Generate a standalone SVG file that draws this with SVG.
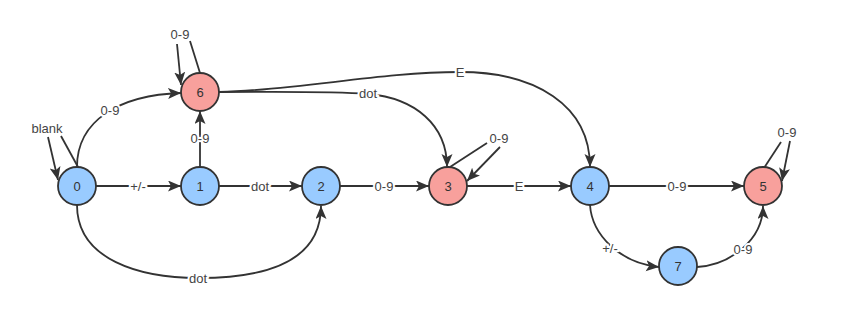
<svg xmlns="http://www.w3.org/2000/svg" width="860" height="310" viewBox="0 0 860 310">
<style>
.n circle{stroke:#333;stroke-width:1.8}
.b circle{fill:#99cbff}
.r circle{fill:#f8a09c}
text{font-family:"Liberation Sans",Arial,sans-serif;font-size:13px;fill:#333;text-anchor:middle;dominant-baseline:central}
#edges path{fill:none;stroke:#333;stroke-width:1.8}
.lbl{stroke:#fff;stroke-width:4;paint-order:stroke;fill:#444}
.a{marker-end:url(#arr)}
</style>
<defs>
<marker id="arr" markerUnits="userSpaceOnUse" markerWidth="14" markerHeight="12" refX="13" refY="5.5" orient="auto">
<path d="M0,0 L13,5.5 L0,11 L3,5.5 z" fill="#333"/>
</marker>
</defs>
<rect width="860" height="310" fill="#fff"/>
<g id="edges">
<path class="a" d="M96,186 L181,186"/>
<path class="a" d="M219,186 L302,186"/>
<path class="a" d="M340,186 L429,186"/>
<path class="a" d="M467,186 L571,186"/>
<path class="a" d="M609,186 L744,186"/>
<path class="a" d="M200,167 L200,111"/>
<path class="a" d="M77,167 C77,120 120,95 181,93"/>
<path d="M78,167 L61,136"/>
<path class="a" d="M48,137 L58,180"/>
<path d="M200,73 L190,41"/>
<path class="a" d="M177,44 L181,85"/>
<path class="a" d="M219,92 C280,92 330,91 368,94 C415,98 447,125 447,167"/>
<path class="a" d="M219,92 C300,90 380,72 460,72 C535,72 590,105 590,167"/>
<path d="M450,167 L487,143"/>
<path class="a" d="M500,147 L467,181"/>
<path d="M764,168 L781,142"/>
<path class="a" d="M790,141 L782,181"/>
<path class="a" d="M77,205 C77,260 140,278 199,278 C270,278 321,260 321,206"/>
<path class="a" d="M590,205 C592,235 620,263 659,267"/>
<path class="a" d="M697,267 C730,265 763,240 763,206"/>
<text class="lbl" x="138" y="186">+/-</text>
<text class="lbl" x="260" y="186">dot</text>
<text class="lbl" x="384" y="186">0-9</text>
<text class="lbl" x="519" y="186">E</text>
<text class="lbl" x="677" y="186">0-9</text>
<text class="lbl" x="200" y="138">0-9</text>
<text class="lbl" x="110" y="110">0-9</text>
<text class="lbl" x="47" y="128">blank</text>
<text class="lbl" x="180" y="34">0-9</text>
<text class="lbl" x="368" y="93">dot</text>
<text class="lbl" x="460" y="72">E</text>
<text class="lbl" x="499" y="138">0-9</text>
<text class="lbl" x="787" y="132">0-9</text>
<text class="lbl" x="198" y="278">dot</text>
<text class="lbl" x="610" y="248">+/-</text>
<text class="lbl" x="743" y="249">0-9</text>
</g>
<g id="n0" class="n b"><circle cx="77" cy="186" r="19"/><text x="77" y="186">0</text></g>
<g id="n1" class="n b"><circle cx="200" cy="186" r="19"/><text x="200" y="186">1</text></g>
<g id="n2" class="n b"><circle cx="321" cy="186" r="19"/><text x="321" y="186">2</text></g>
<g id="n3" class="n r"><circle cx="448" cy="186" r="19"/><text x="448" y="186">3</text></g>
<g id="n4" class="n b"><circle cx="590" cy="186" r="19"/><text x="590" y="186">4</text></g>
<g id="n5" class="n r"><circle cx="763" cy="186" r="19"/><text x="763" y="186">5</text></g>
<g id="n6" class="n r"><circle cx="200" cy="92" r="19"/><text x="200" y="92">6</text></g>
<g id="n7" class="n b"><circle cx="678" cy="266" r="19"/><text x="678" y="266">7</text></g>
</svg>
